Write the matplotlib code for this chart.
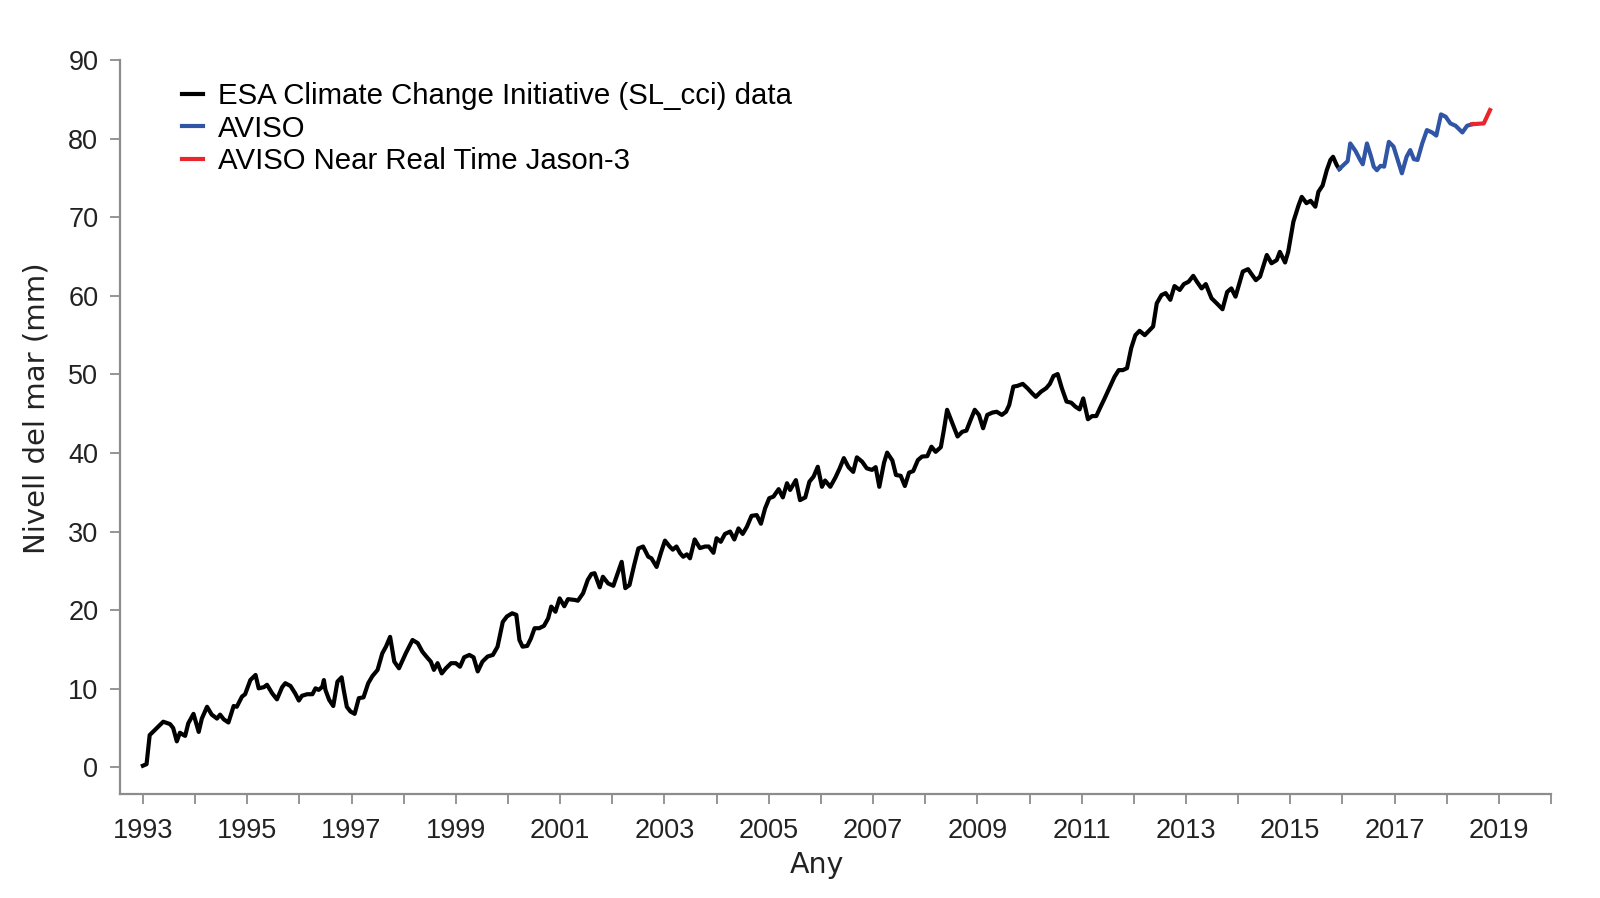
import matplotlib
matplotlib.use("Agg")
import matplotlib.pyplot as plt
from matplotlib.ticker import FixedLocator

# ---------------- data ----------------
yrs_cci = [1993.00, 1993.07, 1993.13, 1993.23, 1993.39, 1993.52, 1993.58, 1993.65, 1993.71, 1993.78,
           1993.81, 1993.87, 1993.97, 1994.07, 1994.13, 1994.23, 1994.32, 1994.42, 1994.48, 1994.55,
           1994.64, 1994.74, 1994.80, 1994.90, 1994.96, 1995.06, 1995.16, 1995.22, 1995.32, 1995.38,
           1995.48, 1995.57, 1995.67, 1995.73, 1995.83, 1995.92, 1995.99, 1996.05, 1996.15, 1996.25,
           1996.31, 1996.37, 1996.44, 1996.47, 1996.50, 1996.57, 1996.65, 1996.73, 1996.81, 1996.85,
           1996.91, 1996.98, 1997.06, 1997.14, 1997.23, 1997.32, 1997.40, 1997.50, 1997.59, 1997.66,
           1997.74, 1997.82, 1997.91, 1998.04, 1998.17, 1998.27, 1998.36, 1998.46, 1998.52, 1998.58,
           1998.65, 1998.73, 1998.81, 1998.91, 1999.00, 1999.08, 1999.16, 1999.26, 1999.34, 1999.42,
           1999.51, 1999.61, 1999.71, 1999.80, 1999.90, 1999.98, 2000.08, 2000.16, 2000.22, 2000.28,
           2000.37, 2000.44, 2000.51, 2000.60, 2000.69, 2000.77, 2000.83, 2000.91, 2000.99, 2001.08,
           2001.15, 2001.28, 2001.34, 2001.44, 2001.53, 2001.60, 2001.66, 2001.76, 2001.82, 2001.92,
           2002.02, 2002.08, 2002.18, 2002.25, 2002.33, 2002.42, 2002.50, 2002.59, 2002.69, 2002.75,
           2002.85, 2002.93, 2003.01, 2003.10, 2003.16, 2003.23, 2003.30, 2003.36, 2003.43, 2003.49,
           2003.58, 2003.68, 2003.78, 2003.85, 2003.94, 2004.00, 2004.08, 2004.16, 2004.26, 2004.34,
           2004.42, 2004.50, 2004.58, 2004.67, 2004.77, 2004.85, 2004.93, 2005.01, 2005.09, 2005.19,
           2005.27, 2005.35, 2005.41, 2005.52, 2005.60, 2005.70, 2005.78, 2005.86, 2005.94, 2006.02,
           2006.08, 2006.18, 2006.28, 2006.36, 2006.44, 2006.53, 2006.62, 2006.69, 2006.79, 2006.88,
           2006.98, 2007.05, 2007.12, 2007.21, 2007.27, 2007.37, 2007.44, 2007.53, 2007.61, 2007.69,
           2007.77, 2007.86, 2007.94, 2008.04, 2008.12, 2008.20, 2008.30, 2008.36, 2008.42, 2008.52,
           2008.62, 2008.71, 2008.79, 2008.87, 2008.95, 2009.03, 2009.11, 2009.19, 2009.29, 2009.37,
           2009.47, 2009.55, 2009.61, 2009.69, 2009.77, 2009.87, 2009.96, 2010.05, 2010.12, 2010.22,
           2010.32, 2010.39, 2010.46, 2010.54, 2010.62, 2010.71, 2010.80, 2010.88, 2010.96, 2011.03,
           2011.12, 2011.20, 2011.28, 2011.35, 2011.44, 2011.53, 2011.63, 2011.71, 2011.79, 2011.87,
           2011.95, 2012.03, 2012.11, 2012.21, 2012.29, 2012.37, 2012.44, 2012.53, 2012.61, 2012.70,
           2012.78, 2012.88, 2012.96, 2013.05, 2013.14, 2013.21, 2013.30, 2013.38, 2013.49, 2013.59,
           2013.70, 2013.79, 2013.87, 2013.95, 2014.09, 2014.19, 2014.34, 2014.42, 2014.55, 2014.64,
           2014.74, 2014.80, 2014.90, 2014.96, 2015.06, 2015.16, 2015.22, 2015.31, 2015.39, 2015.48,
           2015.54, 2015.62, 2015.70, 2015.77, 2015.82, 2015.89, 2015.94]
sl_cci = [0.2, 0.4, 4.1, 4.75, 5.8, 5.5, 5.0, 3.3, 4.4, 4.1,
          4.0, 5.6, 6.8, 4.5, 6.2, 7.7, 6.7, 6.2, 6.7, 6.1,
          5.7, 7.8, 7.7, 9.0, 9.3, 11.1, 11.75, 10.05, 10.2, 10.5,
          9.4, 8.65, 10.2, 10.7, 10.35, 9.4, 8.5, 9.1, 9.3, 9.3,
          10.05, 9.85, 10.25, 11.1, 9.85, 8.6, 7.8, 10.9, 11.45, 9.85,
          7.7, 7.1, 6.8, 8.8, 8.9, 10.7, 11.6, 12.4, 14.5, 15.35,
          16.6, 13.45, 12.6, 14.5, 16.2, 15.8, 14.7, 13.9, 13.45, 12.4,
          13.25, 11.95, 12.6, 13.25, 13.25, 12.8, 14.0, 14.3, 14.0, 12.2,
          13.45, 14.1, 14.3, 15.35, 18.5, 19.2, 19.6, 19.4, 16.2, 15.35,
          15.45, 16.4, 17.7, 17.7, 18.0, 18.95, 20.45, 19.8, 21.5, 20.5,
          21.4, 21.3, 21.2, 22.15, 23.85, 24.6, 24.7, 22.9, 24.25, 23.4,
          23.1, 24.25, 26.15, 22.8, 23.2, 25.75, 27.85, 28.1, 26.8, 26.6,
          25.5, 27.25, 28.85, 28.1, 27.7, 28.1, 27.25, 26.8, 27.1, 26.6,
          29.0, 27.9, 28.1, 28.1, 27.3, 29.15, 28.7, 29.7, 30.0, 29.0,
          30.4, 29.7, 30.6, 32.0, 32.1, 31.0, 32.95, 34.25, 34.45, 35.4,
          34.35, 36.15, 35.3, 36.55, 34.0, 34.35, 36.35, 37.0, 38.25, 35.7,
          36.5, 35.7, 36.9, 38.05, 39.35, 38.2, 37.6, 39.45, 38.9, 38.05,
          37.85, 38.2, 35.7, 38.75, 40.05, 39.05, 37.2, 37.1, 35.8, 37.5,
          37.7, 39.1, 39.55, 39.6, 40.8, 40.15, 40.75, 43.0, 45.5, 43.8,
          42.1, 42.7, 42.85, 44.2, 45.5, 44.85, 43.15, 44.85, 45.15, 45.25,
          44.85, 45.25, 46.1, 48.45, 48.55, 48.8, 48.25, 47.6, 47.15, 47.8,
          48.25, 48.8, 49.8, 50.05, 48.25, 46.55, 46.4, 45.9, 45.55, 46.95,
          44.3, 44.7, 44.7, 45.7, 46.95, 48.25, 49.7, 50.55, 50.55, 50.8,
          53.35, 55.0, 55.55, 55.0, 55.55, 56.1, 59.05, 60.1, 60.35, 59.5,
          61.25, 60.75, 61.5, 61.8, 62.55, 61.8, 60.95, 61.5, 59.7, 59.05,
          58.3, 60.5, 60.95, 59.9, 63.1, 63.4, 62.0, 62.45, 65.2, 64.15,
          64.55, 65.6, 64.25, 65.6, 69.45, 71.55, 72.6, 71.8, 72.1, 71.35,
          73.25, 74.05, 76.0, 77.3, 77.7, 76.65, 76.15]

yrs_aviso = [2015.94, 2016.02, 2016.10, 2016.15, 2016.25, 2016.34, 2016.39, 2016.47, 2016.55, 2016.60,
             2016.66, 2016.73, 2016.80, 2016.89, 2016.98, 2017.06, 2017.14, 2017.23, 2017.30, 2017.37,
             2017.44, 2017.53, 2017.62, 2017.72, 2017.80, 2017.89, 2017.98, 2018.07, 2018.17, 2018.30,
             2018.39, 2018.49]
sl_aviso = [76.15, 76.65, 77.15, 79.4, 78.45, 77.3, 76.75, 79.4, 77.7, 76.45,
            76.0, 76.55, 76.45, 79.6, 79.0, 77.3, 75.6, 77.7, 78.55, 77.4,
            77.3, 79.4, 81.1, 80.8, 80.4, 83.1, 82.8, 81.95, 81.65, 80.8,
            81.65, 81.85]

yrs_nrt = [2018.49, 2018.71, 2018.83]
sl_nrt = [81.85, 81.95, 83.65]

labels = ["ESA Climate Change Initiative (SL_cci) data", "AVISO", "AVISO Near Real Time Jason-3"]
colors = ["#000000", "#2f55a4", "#e8262b"]

year_ticks = list(range(1993, 2021))
year_labels = [str(y) if (y - 1993) % 2 == 0 and y < 2020 else "" for y in year_ticks]
y_ticks = list(range(0, 91, 10))

# ---------------- figure ----------------
tick_font = ["Liberation Sans", "DejaVu Sans"]
label_font = ["DejaVu Sans"]

fig = plt.figure(figsize=(16, 8.98), dpi=100)
ax = fig.add_axes([0.0753, 0.1159, 0.9694 - 0.0753, 0.933 - 0.1159])

lw = 3.0
ax.plot(yrs_cci, sl_cci, color=colors[0], lw=lw, label=labels[0], solid_joinstyle="round")
ax.plot(yrs_aviso, sl_aviso, color=colors[1], lw=lw, label=labels[1], solid_joinstyle="round")
ax.plot(yrs_nrt, sl_nrt, color=colors[2], lw=lw, label=labels[2], solid_joinstyle="round")

ax.set_xlim(1992.57, 2020.0)
ax.set_ylim(-3.39, 90)

ax.xaxis.set_major_locator(FixedLocator(year_ticks))
ax.set_xticklabels(year_labels)
ax.yaxis.set_major_locator(FixedLocator(y_ticks))

spine_col = "#8c8c8c"
for s in ["top", "right"]:
    ax.spines[s].set_visible(False)
for s in ["left", "bottom"]:
    ax.spines[s].set_color(spine_col)
    ax.spines[s].set_linewidth(1.6)

ax.tick_params(axis="both", colors=spine_col, width=1.3, length=7, labelcolor="#222222")
ax.tick_params(axis="x", pad=10)
ax.tick_params(axis="y", pad=9)
for t in ax.get_xticklabels() + ax.get_yticklabels():
    t.set_fontfamily(tick_font)
    t.set_fontsize(19.5)

ax.set_xlabel("Any", fontsize=20.5, family=label_font, color="#222222")
ax.set_ylabel("Nivell del mar (mm)", fontsize=21, family=label_font, color="#222222")
ax.xaxis.set_label_coords(0.487, -0.078)
ax.yaxis.set_label_coords(-0.049, 0.526)

leg = ax.legend(loc="upper left", bbox_to_anchor=(182 / 1600, 1 - 82 / 898),
                bbox_transform=fig.transFigure, frameon=False, borderpad=0,
                borderaxespad=0, handlelength=0.72, handletextpad=0.5,
                labelspacing=0.16, prop={"family": tick_font, "size": 21.2})

fig.savefig("out.png", dpi=100, facecolor="white")
